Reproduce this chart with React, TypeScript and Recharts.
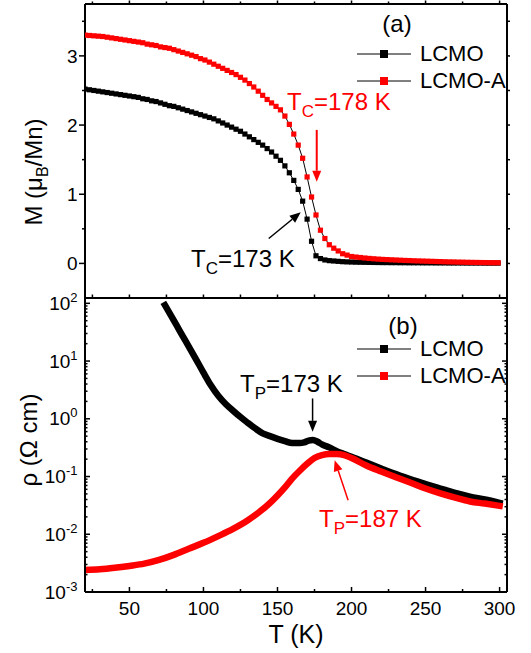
import React from 'react';
import { LineChart, Line, XAxis, YAxis, Legend, ReferenceLine } from 'recharts';

const FONT = '"Liberation Sans", Arial, Helvetica, sans-serif';

// panel (a): magnetization, 3 K steps
const tempM = [
  20, 23, 26, 29, 32, 35, 38, 41, 44, 47, 50, 53, 56, 59, 62, 65, 68, 71, 74, 77,
  80, 83, 86, 89, 92, 95, 98, 101, 104, 107, 110, 113, 116, 119, 122, 125, 128, 131, 134, 137,
  140, 143, 146, 149, 152, 155, 158, 161, 164, 167, 170, 173, 176, 179, 182, 185, 188, 191, 194, 197,
  200, 203, 206, 209, 212, 215, 218, 221, 224, 227, 230, 233, 236, 239, 242, 245, 248, 251, 254, 257,
  260, 263, 266, 269, 272, 275, 278, 281, 284, 287, 290, 293, 296, 299,
];
const mLCMO = [
  2.52, 2.51, 2.5, 2.49, 2.48, 2.47, 2.46, 2.45, 2.44, 2.43, 2.42, 2.41, 2.4,
  2.38, 2.37, 2.35, 2.34, 2.32, 2.3, 2.28, 2.27, 2.25, 2.23, 2.21, 2.19, 2.17, 2.15,
  2.13, 2.11, 2.09, 2.06, 2.03, 2.0, 1.97, 1.94, 1.91, 1.87, 1.83, 1.79, 1.75, 1.71, 1.66, 1.61, 1.55,
  1.49, 1.41, 1.31, 1.2, 1.07, 0.9, 0.64, 0.32, 0.11, 0.07, 0.05, 0.04, 0.035, 0.03, 0.025, 0.022, 0.02,
  0.018, 0.017, 0.016, 0.015, 0.014, 0.013, 0.012, 0.012, 0.011, 0.011, 0.01, 0.01, 0.009, 0.009, 0.009, 0.008,
  0.008, 0.008, 0.007, 0.007, 0.007, 0.006, 0.006, 0.006, 0.006, 0.005, 0.005, 0.005, 0.005, 0.004, 0.004, 0.004, 0.004,
];
const mLCMOA = [
  3.3, 3.295, 3.29, 3.285, 3.28, 3.27, 3.26, 3.25, 3.24, 3.23, 3.22, 3.21, 3.2,
  3.19, 3.17, 3.16, 3.15, 3.13, 3.12, 3.11, 3.09, 3.07, 3.05, 3.03, 3.01, 2.99, 2.96,
  2.94, 2.91, 2.88, 2.85, 2.82, 2.79, 2.76, 2.73, 2.69, 2.65, 2.6, 2.55, 2.49, 2.43, 2.37, 2.32, 2.27,
  2.22, 2.13, 2.01, 1.87, 1.71, 1.52, 1.25, 0.96, 0.7, 0.48, 0.36, 0.27, 0.22, 0.18, 0.14, 0.12, 0.1,
  0.092, 0.085, 0.078, 0.072, 0.067, 0.062, 0.058, 0.055, 0.052, 0.049, 0.046, 0.043, 0.041, 0.038, 0.036, 0.034,
  0.032, 0.03, 0.028, 0.026, 0.024, 0.022, 0.021, 0.019, 0.018, 0.016, 0.015, 0.014, 0.013, 0.012, 0.011, 0.01, 0.01,
];

// panel (b): resistivity
const tempRhoLCMO = [
  74, 78, 82, 86, 90, 95, 100, 105, 110, 115, 120, 125, 130, 135, 140, 145, 150, 155, 160, 165,
  168, 171, 174, 177, 180, 185, 190, 195, 200, 210, 220, 230, 240, 250, 260, 270, 280, 290, 300,
];
const rhoLCMO = [
  93, 62, 41, 27, 18, 10.7, 6.3, 3.8, 2.5, 1.8, 1.38, 1.07, 0.85, 0.68, 0.56, 0.5, 0.45, 0.41, 0.38, 0.38,
  0.39, 0.42, 0.43, 0.4, 0.36, 0.32, 0.275, 0.245, 0.22, 0.174, 0.138, 0.11, 0.089, 0.074, 0.062, 0.052, 0.045, 0.04, 0.035,
];
const tempRhoLCMOA = [
  20, 30, 40, 50, 60, 70, 80, 90, 100, 110, 120, 130, 140, 145, 150, 155, 160, 165, 170, 175,
  180, 185, 190, 195, 200, 210, 220, 230, 240, 250, 260, 270, 280, 290, 300,
];
const rhoLCMOA = [
  0.0024, 0.00247, 0.00262, 0.00283, 0.0031, 0.0036, 0.0044, 0.0056, 0.0071, 0.0093, 0.0124, 0.0175, 0.027,
  0.035, 0.047, 0.065, 0.093, 0.126, 0.166, 0.209, 0.234, 0.245, 0.245, 0.235, 0.209,
  0.155, 0.122, 0.097, 0.078, 0.062, 0.051, 0.043, 0.037, 0.034, 0.031,
];

const xTicks = [25, 50, 75, 100, 125, 150, 175, 200, 225, 250, 275, 300];
const xMajor = [50, 100, 150, 200, 250, 300];
const mTicks = [0, 0.5, 1, 1.5, 2, 2.5, 3, 3.5];
const mMajor = [0, 1, 2, 3];
const decades = [-3, -2, -1, 0, 1, 2];

const series = [
  { name: 'LCMO', color: '#000000' },
  { name: 'LCMO-A', color: '#ff0000' },
];

const magData = tempM.map((t, i) => ({ T: t, LCMO: mLCMO[i], 'LCMO-A': mLCMOA[i] }));
const rhoBlack = tempRhoLCMO.map((t, i) => ({ T: t, rho: rhoLCMO[i] }));
const rhoRed = tempRhoLCMOA.map((t, i) => ({ T: t, rho: rhoLCMOA[i] }));

// log ticks: decades plus 2..9 minors
const logTicks: number[] = [];
decades.forEach((k) => {
  logTicks.push(Math.pow(10, k));
  if (k < 2) for (let m = 2; m <= 9; m++) logTicks.push(m * Math.pow(10, k));
});
const isDecade = (v: number) => Math.abs(Math.log10(v) - Math.round(Math.log10(v))) < 1e-6;

const X_DOMAIN: [number, number] = [20, 305];

const xTick = (dir: number, majorLen: number, minorLen: number, labels: boolean) => (p: any) => {
  const v = p.payload.value;
  const major = xMajor.includes(v);
  return (
    <g>
      <line x1={p.x} x2={p.x} y1={p.y} y2={p.y + dir * (major ? majorLen : minorLen)} stroke="#000" strokeWidth={1.5} />
      {labels && major && (
        <text x={p.x} y={p.y + 23} textAnchor="middle" fontSize={19} fontFamily={FONT} fill="#000">
          {v}
        </text>
      )}
    </g>
  );
};

const yTick = (dir: number, majorLen: number, minorLen: number, major: (v: number) => boolean, label?: (v: number) => React.ReactNode) => (p: any) => {
  const v = p.payload.value;
  const isMaj = major(v);
  return (
    <g>
      <line x1={p.x} x2={p.x + dir * (isMaj ? majorLen : minorLen)} y1={p.y} y2={p.y} stroke="#000" strokeWidth={1.5} />
      {label && isMaj && (
        <text x={p.x - 7.5} y={p.y} dy="0.35em" textAnchor="end" fontSize={19} fontFamily={FONT} fill="#000">
          {label(v)}
        </text>
      )}
    </g>
  );
};

const powLabel = (v: number) => (
  <>
    10<tspan dy={-8} fontSize={13}>{Math.round(Math.log10(v))}</tspan>
  </>
);

const squareDot = (color: string) => (p: any) => (
  <rect key={`d-${p.index}`} x={p.cx - 2.6} y={p.cy - 2.6} width={5.2} height={5.2} fill={color} />
);

const arrow = (color: string, width: number) => (p: any) => {
  const { x1, y1, x2, y2 } = p;
  const ang = Math.atan2(y2 - y1, x2 - x1);
  const hl = 11;
  const hw = 4.5;
  const bx = x2 - hl * Math.cos(ang);
  const by = y2 - hl * Math.sin(ang);
  const nx = -Math.sin(ang) * hw;
  const ny = Math.cos(ang) * hw;
  return (
    <g>
      <line x1={x1} y1={y1} x2={bx} y2={by} stroke={color} strokeWidth={width} />
      <polygon points={`${x2},${y2} ${bx + nx},${by + ny} ${bx - nx},${by - ny}`} fill={color} />
    </g>
  );
};

const renderLegend = () => (
  <div style={{ fontFamily: FONT, fontSize: 22, color: '#000' }}>
    {series.map((s) => (
      <div key={s.name} style={{ display: 'flex', alignItems: 'center', height: 27 }}>
        <svg width={63} height={12}>
          <line x1={0} x2={54} y1={6} y2={6} stroke="#000" strokeWidth={1} />
          <rect x={23} y={2} width={8} height={8} fill={s.color} />
        </svg>
        <span style={{ lineHeight: '27px' }}>{s.name}</span>
      </div>
    ))}
  </div>
);

const axisLine = { stroke: '#000', strokeWidth: 2 };

export default function App() {
  return (
    <div style={{ position: 'absolute', left: 0, top: 0, width: 531, height: 653, background: '#fff' }}>
      <div style={{ position: 'absolute', left: 0, top: 0 }}>
        <LineChart width={531} height={299} data={magData} margin={{ top: 0, right: 0, bottom: 0, left: 0 }}>
          <XAxis dataKey="T" type="number" domain={X_DOMAIN} allowDataOverflow ticks={xTicks} interval={0}
            height={1} tickSize={0} tickMargin={0} tickLine={false} axisLine={axisLine} tick={xTick(-1, 3.5, 3.5, false)} />
          <XAxis xAxisId="top" orientation="top" dataKey="T" type="number" domain={X_DOMAIN} allowDataOverflow ticks={xTicks} interval={0}
            height={4} tickSize={0} tickMargin={0} tickLine={false} axisLine={axisLine} tick={xTick(-1, 3.5, 2.5, false)} />
          <YAxis type="number" domain={[-0.5, 3.75]} allowDataOverflow ticks={mTicks} interval={0} width={85}
            tickSize={0} tickMargin={0} tickLine={false} axisLine={axisLine}
            tick={yTick(-1, 6, 3, (v) => mMajor.includes(v), (v) => v)} />
          <YAxis yAxisId="right" orientation="right" type="number" domain={[-0.5, 3.75]} allowDataOverflow ticks={mTicks} interval={0} width={24}
            tickSize={0} tickMargin={0} tickLine={false} axisLine={axisLine}
            tick={yTick(1, 3, 3, () => true)} />
          <Legend layout="vertical" align="center" verticalAlign="middle" content={renderLegend}
            wrapperStyle={{ left: 357, top: 40, width: 'auto' }} />
          <Line type="linear" dataKey="LCMO" stroke="#000" strokeWidth={1} dot={squareDot(series[0].color)} isAnimationActive={false} />
          <Line type="linear" dataKey="LCMO-A" stroke="#000" strokeWidth={1} dot={squareDot(series[1].color)} isAnimationActive={false} />
          <ReferenceLine segment={[{ x: 176.5, y: 1.93 }, { x: 176.5, y: 1.18 }]} shape={arrow('#ff0000', 2)} />
          <ReferenceLine segment={[{ x: 144.1, y: 0.36 }, { x: 165.7, y: 0.74 }]} shape={arrow('#000', 1.5)} />
        </LineChart>
      </div>
      <div style={{ position: 'absolute', left: 0, top: 286 }}>
        <LineChart width={531} height={367} margin={{ top: 11, right: 0, bottom: 0, left: 0 }}>
          <XAxis dataKey="T" type="number" domain={X_DOMAIN} allowDataOverflow ticks={xTicks} interval={0}
            height={61} tickSize={0} tickMargin={0} tickLine={false} axisLine={axisLine} tick={xTick(-1, 5, 3, true)} />
          <XAxis xAxisId="top" orientation="top" dataKey="T" type="number" domain={X_DOMAIN} allowDataOverflow ticks={xTicks} interval={0}
            height={1} tickSize={0} tickMargin={0} tickLine={false} axisLine={axisLine} tick={() => <g />} />
          <YAxis type="number" scale="log" domain={[0.001, 123.6]} allowDataOverflow ticks={logTicks} interval={0} width={85}
            tickSize={0} tickMargin={0} tickLine={false} axisLine={axisLine}
            tick={yTick(1, 5, 2.5, isDecade, powLabel)} />
          <YAxis yAxisId="right" orientation="right" type="number" scale="log" domain={[0.001, 123.6]} allowDataOverflow ticks={logTicks} interval={0} width={24}
            tickSize={0} tickMargin={0} tickLine={false} axisLine={axisLine}
            tick={yTick(-1, 5, 2.5, isDecade)} />
          <Legend layout="vertical" align="center" verticalAlign="middle" content={renderLegend}
            wrapperStyle={{ left: 357, top: 49, width: 'auto' }} />
          <Line data={rhoBlack} type="monotone" dataKey="rho" name="LCMO" stroke="#000" strokeWidth={6.5} strokeLinecap="square" dot={false} isAnimationActive={false} />
          <Line data={rhoRed} type="monotone" dataKey="rho" name="LCMO-A" stroke="#ff0000" strokeWidth={6.5} strokeLinecap="square" dot={false} isAnimationActive={false} />
          <ReferenceLine segment={[{ x: 173.7, y: 2.25 }, { x: 173.7, y: 0.594 }]} shape={arrow('#000', 1.5)} />
          <ReferenceLine segment={[{ x: 197.7, y: 0.039 }, { x: 188.6, y: 0.192 }]} shape={arrow('#ff0000', 1.5)} />
        </LineChart>
      </div>
      <svg width={531} height={653} style={{ position: 'absolute', left: 0, top: 0, pointerEvents: 'none' }} fontFamily={FONT}>
        <text transform="translate(42,172) rotate(-90)" textAnchor="middle" fontSize={24} fill="#000">
          M (μ<tspan dy={6} fontSize={16}>B</tspan><tspan dy={-6}>/Mn)</tspan>
        </text>
        <text transform="translate(37,440) rotate(-90)" textAnchor="middle" fontSize={24} fill="#000">
          ρ (Ω cm)
        </text>
        <text x={296} y={643} textAnchor="middle" fontSize={25} fill="#000">T (K)</text>
        <text x={397} y={32} textAnchor="middle" fontSize={24} fill="#000">(a)</text>
        <text x={403} y={334} textAnchor="middle" fontSize={24} fill="#000">(b)</text>
        <text x={287} y={110} fontSize={24} fill="#ff0000">
          T<tspan dy={7} fontSize={17}>C</tspan><tspan dy={-7}>=178 K</tspan>
        </text>
        <text x={191} y={267} fontSize={24} fill="#000">
          T<tspan dy={7} fontSize={17}>C</tspan><tspan dy={-7}>=173 K</tspan>
        </text>
        <text x={240} y={392} fontSize={24} fill="#000">
          T<tspan dy={7} fontSize={17}>P</tspan><tspan dy={-7}>=173 K</tspan>
        </text>
        <text x={319} y={527} fontSize={24} fill="#ff0000">
          T<tspan dy={7} fontSize={17}>P</tspan><tspan dy={-7}>=187 K</tspan>
        </text>
      </svg>
    </div>
  );
}
